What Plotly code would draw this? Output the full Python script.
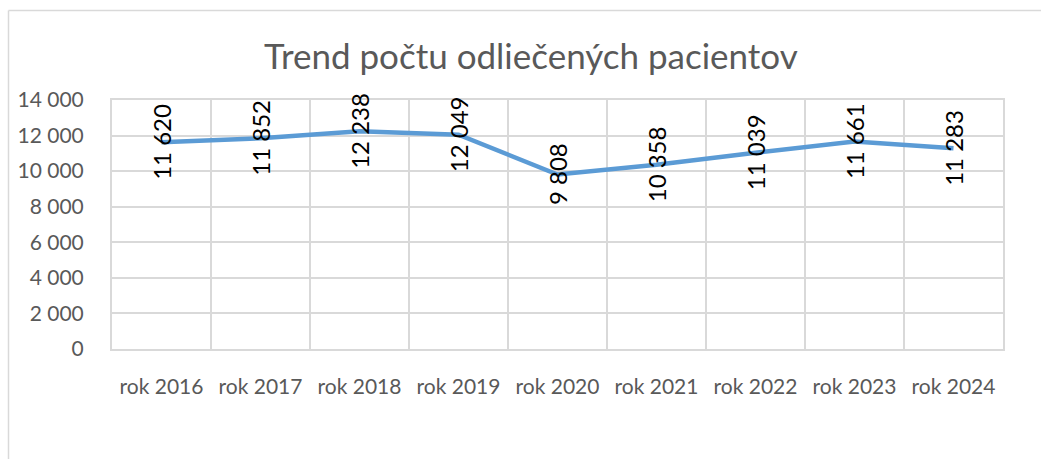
import plotly.graph_objects as go

categories = ["rok 2016", "rok 2017", "rok 2018", "rok 2019", "rok 2020",
              "rok 2021", "rok 2022", "rok 2023", "rok 2024"]
values = [11620, 11852, 12238, 12049, 9808, 10358, 11039, 11661, 11283]
value_labels = ["11 620", "11 852", "12 238", "12 049", "9 808",
                "10 358", "11 039", "11 661", "11 283"]
y_ticks = [0, 2000, 4000, 6000, 8000, 10000, 12000, 14000]
y_tick_labels = ["0", "2 000", "4 000", "6 000", "8 000", "10 000", "12 000", "14 000"]

FONT = "Lato"
GRAY = "#595959"
GRID = "#D9D9D9"

fig = go.Figure()
fig.add_trace(go.Scatter(
    x=categories, y=values, mode="lines",
    line=dict(color="#5B9BD5", width=4.5),
    hoverinfo="skip", showlegend=False,
))

for c, v, t in zip(categories, values, value_labels):
    fig.add_annotation(x=c, y=v, xref="x", yref="y", text=t, showarrow=False,
                       textangle=-90, font=dict(family=FONT, size=24, color="#000000"))

# outer chart border (left and top edges visible)
fig.add_shape(type="line", xref="paper", yref="paper",
              x0=(8.5 - 112) / 891, x1=(8.5 - 112) / 891,
              y0=(349 - 10.5) / 249, y1=(349 - 470) / 249,
              line=dict(color=GRID, width=1.5))
fig.add_shape(type="line", xref="paper", yref="paper",
              x0=(8.5 - 112) / 891, x1=(1050 - 112) / 891,
              y0=(349 - 10.5) / 249, y1=(349 - 10.5) / 249,
              line=dict(color=GRID, width=1.5))

fig.update_layout(
    width=1041, height=459,
    margin=dict(l=112, r=38, t=100, b=110, autoexpand=False),
    paper_bgcolor="white", plot_bgcolor="white",
    title=dict(text="Trend počtu odliečených pacientov", x=0.51, xref="container",
               xanchor="center", y=1 - 57 / 459, yref="container", yanchor="middle",
               font=dict(family=FONT, size=35, color=GRAY)),
    font=dict(family=FONT, color=GRAY),
)

fig.update_xaxes(
    type="category", range=[-0.5, 8.5], tickson="boundaries",
    showgrid=True, gridcolor=GRID, gridwidth=2,
    showline=True, linecolor=GRID, linewidth=2, mirror=True,
    ticks="", ticklabelstandoff=18, automargin=False,
    tickfont=dict(family=FONT, size=21, color=GRAY),
)
fig.update_yaxes(
    range=[0, 14000], tickvals=y_ticks, ticktext=y_tick_labels,
    showgrid=True, gridcolor=GRID, gridwidth=2,
    showline=True, linecolor=GRID, linewidth=2, mirror=True,
    zeroline=False, ticks="", ticklabelstandoff=22, automargin=False,
    tickfont=dict(family=FONT, size=21, color=GRAY),
)

fig.write_html("out.html", config={"displayModeBar": False, "staticPlot": True},
               post_script="document.body.style.margin='0';document.body.style.overflow='hidden';")
